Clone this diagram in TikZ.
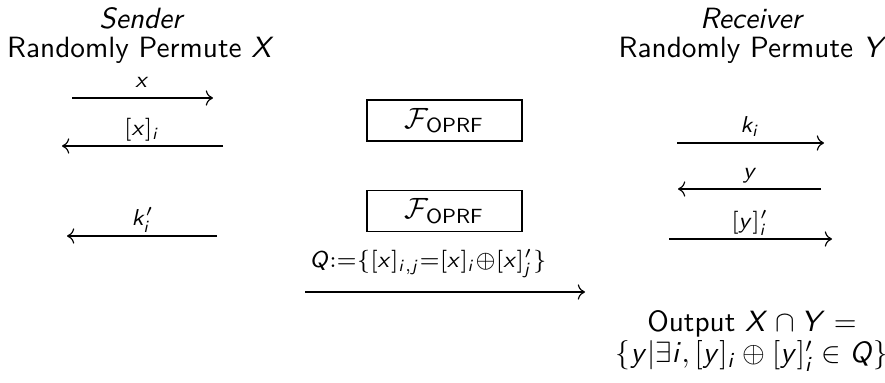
\documentclass[tikz,border=0pt]{standalone}
\usetikzlibrary{arrows.meta}
\DeclareSymbolFont{sfit}{OT1}{cmss}{m}{sl}
\DeclareMathSymbol{x}{\mathalpha}{sfit}{`x}
\DeclareMathSymbol{y}{\mathalpha}{sfit}{`y}
\DeclareMathSymbol{i}{\mathalpha}{sfit}{`i}
\DeclareMathSymbol{j}{\mathalpha}{sfit}{`j}
\DeclareMathSymbol{k}{\mathalpha}{sfit}{`k}
\DeclareMathSymbol{X}{\mathalpha}{sfit}{`X}
\DeclareMathSymbol{Y}{\mathalpha}{sfit}{`Y}
\DeclareMathSymbol{Q}{\mathalpha}{sfit}{`Q}
\newcommand{\lb}[1]{\scalebox{1.12}{$\scriptstyle #1$}}
\begin{document}
\begin{tikzpicture}[x=0.012cm,y=-0.012cm,font=\sffamily,
  head/.style={anchor=base,inner sep=0pt},
  lbl/.style={anchor=base,inner sep=0pt},
  msg/.style={->,line width=0.4pt},
  func/.style={draw,line width=0.4pt,minimum width=1.86cm,minimum height=0.49cm,inner sep=0pt}]
\useasboundingbox (0,0) rectangle (885,383);
% headers
\node[head] (sname) at (142,29) {\textit{Sender}};
\node[head] (sperm) at (141,58) {Randomly Permute $X$};
\node[head] (rname) at (752,29) {\textit{Receiver}};
\node[head] (rperm) at (753,58) {Randomly Permute $Y$};
% functionality boxes
\node[func] (f1) at (444.5,120.5) {$\mathcal{F}_{\mathsf{OPRF}}$};
\node[func] (f2) at (444.5,211) {$\mathcal{F}_{\mathsf{OPRF}}$};
% sender arrows
\coordinate (a1s) at (72,98);  \coordinate (a1e) at (213,98);
\draw[msg] (a1s) -- (a1e);
\node[lbl] (l1) at (142,88) {\lb{x}};
\coordinate (a2s) at (223,146); \coordinate (a2e) at (62,146);
\draw[msg] (a2s) -- (a2e);
\node[lbl] (l2) at (142,136) {\lb{[x]_i}};
\coordinate (a3s) at (217,236); \coordinate (a3e) at (67,236);
\draw[msg] (a3s) -- (a3e);
\node[lbl] (l3) at (143,226) {\lb{k'_i}};
% receiver arrows
\coordinate (b1s) at (677,143); \coordinate (b1e) at (824,143);
\draw[msg] (b1s) -- (b1e);
\node[lbl] (m1) at (750,133) {\lb{k_i}};
\coordinate (b2s) at (821,189); \coordinate (b2e) at (678,189);
\draw[msg] (b2s) -- (b2e);
\node[lbl] (m2) at (750,179) {\lb{y}};
\coordinate (b3s) at (669,239); \coordinate (b3e) at (832,239);
\draw[msg] (b3s) -- (b3e);
\node[lbl] (m3) at (750,229) {\lb{[y]'_i}};
% Q arrow
\coordinate (qs) at (305,292); \coordinate (qe) at (585,292);
\draw[msg] (qs) -- (qe);
\node[lbl] (ql) at (428,268) {\lb{Q:=\{[x]_{i,j}=[x]_i\oplus[x]'_j\}}};
% output
\node[lbl] (o1) at (752,332) {Output $X\cap Y=$};
\node[lbl] (o2) at (752,363) {$\{y|\exists i,[y]_i\oplus[y]'_i\in Q\}$};
\end{tikzpicture}
\end{document}
